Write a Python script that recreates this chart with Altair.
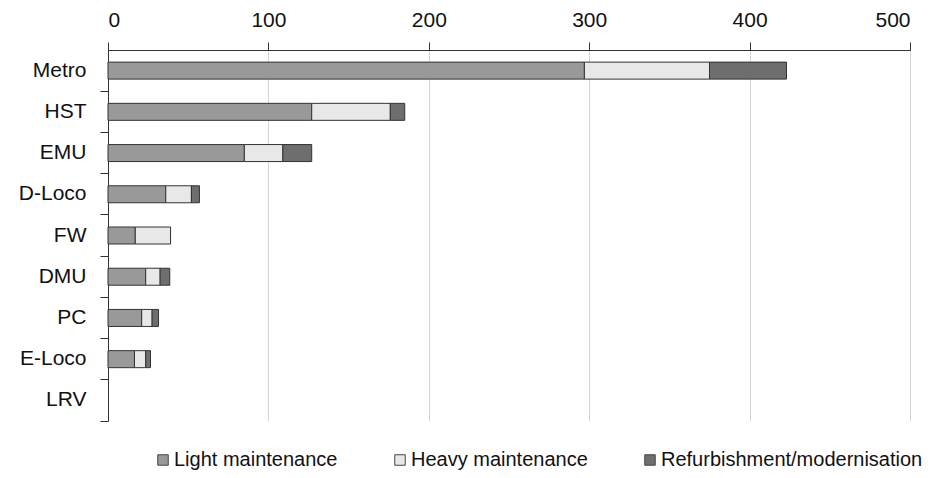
import altair as alt
import pandas as pd

categories = ["Metro", "HST", "EMU", "D-Loco", "FW", "DMU", "PC", "E-Loco", "LRV"]
light = [297, 127, 85, 36, 17, 23.5, 21, 16.5, 0]
heavy = [78, 49, 24, 16, 22, 9, 6.5, 7, 0]
refurb = [48, 9, 18, 5, 0, 6, 4, 3, 0]
series = ["Light maintenance", "Heavy maintenance", "Refurbishment/modernisation"]
colors = ["#999999", "#e8e8e8", "#6e6e6e"]
x_ticks = [0, 100, 200, 300, 400, 500]

rows = []
for i, c in enumerate(categories):
    for j, vals in enumerate([light, heavy, refurb]):
        if vals[i] > 0:
            rows.append({"cat": c, "series": series[j], "value": vals[i], "order": j})
df = pd.DataFrame(rows)

FONT = "Liberation Sans"

chart = alt.Chart(df).mark_bar(size=17, stroke="#333333", strokeWidth=1).encode(
    y=alt.Y(
        "cat:N",
        scale=alt.Scale(domain=categories, paddingInner=0, paddingOuter=0),
        axis=alt.Axis(
            title=None, grid=False, bandPosition=1, tickSize=8, tickColor="#333333",
            domainColor="#333333", labelFontSize=21, labelFont=FONT, labelColor="#111111",
            labelPadding=14,
        ),
    ),
    x=alt.X(
        "value:Q",
        stack="zero",
        scale=alt.Scale(domain=[0, 500], nice=False),
        axis=alt.Axis(
            orient="top", values=x_ticks, title=None, grid=True, gridColor="#d4d4d4",
            tickSize=8, tickColor="#333333", domainColor="#333333", labelFontSize=21,
            labelFont=FONT, labelColor="#111111", labelPadding=12,
        ),
    ),
    color=alt.Color(
        "series:N",
        scale=alt.Scale(domain=series, range=colors),
        legend=alt.Legend(
            title=None, orient="none", legendX=45, legendY=400, direction="horizontal",
            columnPadding=52, symbolType="square", symbolSize=110,
            symbolStrokeColor="#444444", symbolStrokeWidth=1, labelFontSize=20,
            labelFont=FONT, labelColor="#111111", labelLimit=400, labelOffset=1,
        ),
    ),
    order=alt.Order("order:Q"),
).properties(
    width=802,
    height=371,
    autosize=alt.AutoSizeParams(type="none"),
    padding={"left": 100, "top": 42, "right": 22, "bottom": 50},
).configure_view(stroke=None)

chart.save("out.html", embed_options={"renderer": "svg", "actions": False})
